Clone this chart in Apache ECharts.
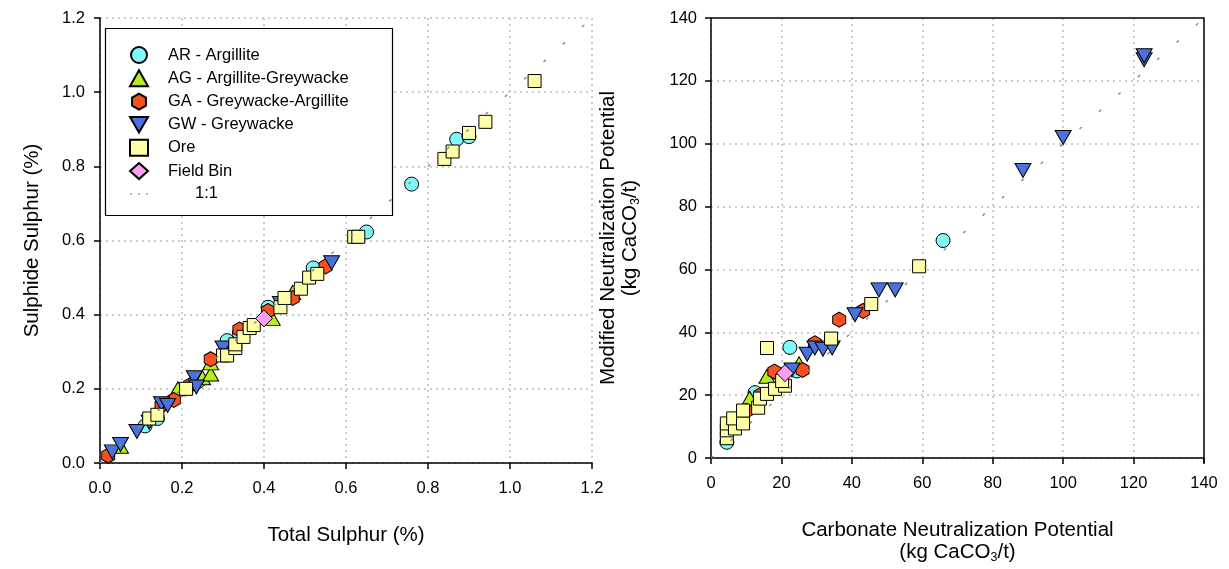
<!DOCTYPE html>
<html>
<head>
<meta charset="utf-8">
<script src="https://cdn.jsdelivr.net/npm/echarts@6/dist/echarts.min.js"></script>
<style>
  html, body { margin: 0; padding: 0; background: #fff; }
  #c { width: 1229px; height: 569px; }
</style>
</head>
<body>
<div id="c"></div>
<script>
// ---- Sulphur: [total S %, sulphide S %] ----
const sAR    = [[0.11,0.10],[0.14,0.12],[0.24,0.22],[0.31,0.33],[0.34,0.35],[0.41,0.42],[0.52,0.526],[0.65,0.623],[0.76,0.752],[0.87,0.873],[0.90,0.88]];
const sAG    = [[0.05,0.045],[0.19,0.20],[0.25,0.23],[0.27,0.24],[0.27,0.27],[0.42,0.39],[0.47,0.46]];
const sGA    = [[0.02,0.02],[0.15,0.155],[0.18,0.17],[0.22,0.21],[0.27,0.28],[0.34,0.36],[0.41,0.41],[0.47,0.445],[0.55,0.53]];
const sGW    = [[0.03,0.03],[0.05,0.05],[0.09,0.085],[0.12,0.11],[0.15,0.16],[0.165,0.155],[0.23,0.23],[0.235,0.205],[0.30,0.31],[0.44,0.43],[0.565,0.54]];
const sOre   = [[0.12,0.12],[0.14,0.13],[0.21,0.20],[0.30,0.29],[0.31,0.29],[0.33,0.31],[0.33,0.32],[0.35,0.34],[0.365,0.364],[0.375,0.372],[0.44,0.42],[0.45,0.445],[0.49,0.47],[0.51,0.50],[0.53,0.51],[0.62,0.61],[0.63,0.61],[0.84,0.82],[0.86,0.84],[0.90,0.89],[0.94,0.92],[1.06,1.03]];
const sField = [[0.40,0.39]];
const sOneToOne = [[0,0],[1.2,1.2]];

// ---- Neutralization potential: [carbonate NP, modified NP] (kg CaCO3/t) ----
const nAR    = [[4.5,5],[12.5,20.8],[22.4,35.2],[24.4,27.7],[65.9,69.2]];
const nAG    = [[11,19],[15.9,26],[25,30]];
const nGA    = [[10,15],[14,20],[18,27.5],[26,28],[29.5,36.5],[36.4,44],[43.2,46.8]];
const nGW    = [[23,28],[27.3,33],[29.5,35],[31.8,34.6],[34.4,35],[40.9,45.6],[47.7,53.5],[52.3,53.5],[88.6,91.5],[100,102],[123,126.7],[123,128]];
const nOre   = [[4.5,6.3],[4.5,8.8],[4.5,11],[6.8,9.4],[6.3,12.6],[9.1,11],[9.1,15.1],[13.4,16],[13.9,18.9],[15.9,20.4],[18.2,22],[21,23],[20.2,24.5],[15.9,35],[34.1,38],[45.5,49],[59.1,61]];
const nField = [[21,27]];
const nOneToOne = [[0,0],[140,140]];

// ---- axis ticks ----
const sTicks = [0, 0.2, 0.4, 0.6, 0.8, 1.0, 1.2];
const nTicks = [0, 20, 40, 60, 80, 100, 120, 140];

const names = ['AR - Argillite','AG - Argillite-Greywacke','GA - Greywacke-Argillite','GW - Greywacke','Ore','Field Bin','1:1'];

const FONT = 'Liberation Sans, Arial, Helvetica, sans-serif';
const HEX = 'path://M0,-1L0.866,-0.5L0.866,0.5L0,1L-0.866,0.5L-0.866,-0.5Z';
const DOWN = 'path://M-1,-0.866L1,-0.866L0,0.866Z';

const styles = [
  { symbol: 'circle',   size: 14,      color: '#80f8f8' },
  { symbol: 'triangle', size: [16,14], color: '#b4ee1e' },
  { symbol: HEX,        size: [13,15], color: '#f8501e' },
  { symbol: DOWN,       size: [16,14], color: '#4a72dc' },
  { symbol: 'rect',     size: 13,      color: '#ffffa8' },
  { symbol: 'diamond',  size: 17,      color: '#f7a0f5' }
];

function scatterSeries(idx, data, axisIndex) {
  const st = styles[idx];
  return {
    name: names[idx], type: 'scatter', data: data,
    xAxisIndex: axisIndex, yAxisIndex: axisIndex,
    symbol: st.symbol, symbolSize: st.size,
    itemStyle: { color: st.color, borderColor: '#000', borderWidth: 1, opacity: 1 },
    emphasis: { disabled: true }, z: 2
  };
}
function lineSeries(data, axisIndex) {
  return {
    name: '1:1', type: 'line', data: data,
    xAxisIndex: axisIndex, yAxisIndex: axisIndex,
    symbol: 'none', silent: true,
    lineStyle: { color: '#8a8a8a', width: 1.5, type: [3, 23] },
    itemStyle: { color: '#8a8a8a' }, z: 3
  };
}

function valueAxis(gridIndex, ticks, fmt, extra) {
  return Object.assign({
    gridIndex: gridIndex, type: 'value',
    min: ticks[0], max: ticks[ticks.length - 1], interval: ticks[1] - ticks[0],
    axisLine: { show: true, onZero: false, lineStyle: { color: '#000', width: 1.5 } },
    axisTick: { show: true, length: 6, lineStyle: { color: '#000', width: 1.5 } },
    axisLabel: { fontSize: 16.5, color: '#000', fontFamily: FONT, formatter: fmt },
    splitLine: { show: true, lineStyle: { color: '#bdbdbd', width: 1.5, type: [2, 4] } },
    nameLocation: 'middle',
    nameTextStyle: {
      color: '#000', fontFamily: FONT, fontSize: 20.5,
      rich: {
        t: { fontSize: 20.5, lineHeight: 22, color: '#000', fontFamily: FONT, verticalAlign: 'top' },
        s: { fontSize: 12.5, lineHeight: 12, color: '#000', fontFamily: FONT, verticalAlign: 'bottom', padding: [14, 0, 0, 0] }
      }
    }
  }, extra);
}

const fmtS = v => v.toFixed(1);
const fmtN = v => String(Math.round(v));
const unit = '{t|(kg CaCO}{s|3}{t|/t)}';
const splitNoMax = { show: true, showMaxLine: false, lineStyle: { color: '#bdbdbd', width: 1.5, type: [2, 4] } };

const option = {
  animation: false,
  backgroundColor: '#fff',
  textStyle: { fontFamily: FONT },
  grid: [
    { left: 100, right: 637, top: 18, bottom: 106, show: false },
    { left: 711, right: 25, top: 18, bottom: 106, show: false }
  ],
  xAxis: [
    valueAxis(0, sTicks, fmtS, { name: '{t|Total Sulphur (%)}', nameGap: 62, axisLabel: { fontSize: 16.5, color: '#000', fontFamily: FONT, formatter: fmtS, margin: 17 } }),
    valueAxis(1, nTicks, fmtN, { name: '{t|Carbonate Neutralization Potential}\n' + unit, nameGap: 62, splitLine: splitNoMax, axisLabel: { fontSize: 16.5, color: '#000', fontFamily: FONT, formatter: fmtN, margin: 17 } })
  ],
  yAxis: [
    valueAxis(0, sTicks, fmtS, { name: '{t|Sulphide Sulphur (%)}', nameGap: 56, axisLabel: { fontSize: 16.5, color: '#000', fontFamily: FONT, formatter: fmtS, margin: 15 } }),
    valueAxis(1, nTicks, fmtN, { name: '{t|Modified Neutralization Potential}\n' + unit, nameGap: 69, splitLine: splitNoMax, axisLabel: { fontSize: 16.5, color: '#000', fontFamily: FONT, formatter: fmtN, margin: 14 } })
  ],
  graphic: [
    // frame of the right panel (top and right edges over the grid lines)
    { type: 'polyline', shape: { points: [[711, 18], [1204, 18], [1204, 463]] },
      style: { stroke: '#000', lineWidth: 1.5, fill: null }, z: 4, silent: true },
    // legend box
    { type: 'rect', shape: { x: 105.5, y: 28.5, width: 287, height: 187 },
      style: { fill: '#fff', stroke: '#000', lineWidth: 1.2 }, z: 3, silent: true }
  ],
  legend: {
    left: 129, top: 46, orient: 'vertical', padding: 0,
    itemWidth: 18, itemHeight: 16, itemGap: 5.3, z: 5,
    selectedMode: false,
    textStyle: { fontSize: 16.5, lineHeight: 16, color: '#000', fontFamily: FONT, padding: [0, 0, 0, 15] },
    data: names.slice(0, 6).map(n => ({ name: n })).concat([{
      name: '1:1',
      icon: 'path://M0,0h3v2h-3zM13,0h3v2h-3zM26,0h3v2h-3z',
      itemStyle: { color: '#8a8a8a', borderWidth: 0 },
      textStyle: { fontSize: 16.5, lineHeight: 16, color: '#000', fontFamily: FONT, padding: [0, 0, 0, 42] }
    }])
  },
  series: [
    scatterSeries(0, sAR, 0), scatterSeries(1, sAG, 0), scatterSeries(2, sGA, 0),
    scatterSeries(3, sGW, 0), scatterSeries(4, sOre, 0), scatterSeries(5, sField, 0),
    lineSeries(sOneToOne, 0),
    scatterSeries(0, nAR, 1), scatterSeries(1, nAG, 1), scatterSeries(2, nGA, 1),
    scatterSeries(3, nGW, 1), scatterSeries(4, nOre, 1), scatterSeries(5, nField, 1),
    lineSeries(nOneToOne, 1)
  ]
};

const chart = echarts.init(document.getElementById('c'), null, { renderer: 'canvas' });
chart.setOption(option);
</script>
</body>
</html>
